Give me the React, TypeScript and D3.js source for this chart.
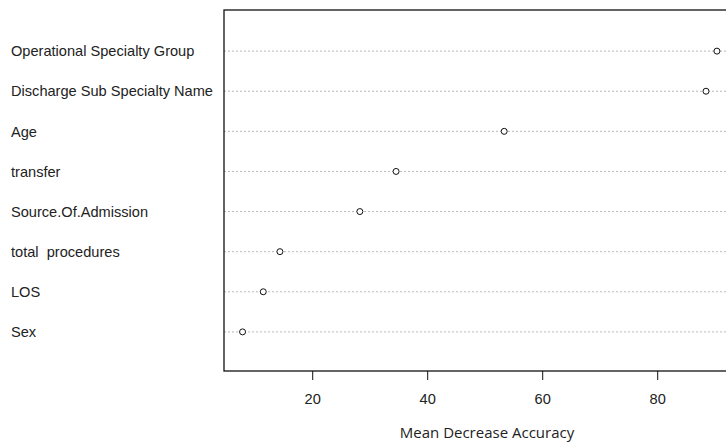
import React, { useEffect, useRef } from "react";
import * as d3 from "d3";

// variable importance, top to bottom
const variables = [
  "Operational Specialty Group",
  "Discharge Sub Specialty Name",
  "Age",
  "transfer",
  "Source.Of.Admission",
  "total  procedures",
  "LOS",
  "Sex",
];
const accuracy = [90.3, 88.4, 53.3, 34.5, 28.2, 14.3, 11.4, 7.8];
const xTicks = [20, 40, 60, 80];

const width = 726;
const height = 442;

export default function App() {
  const ref = useRef<SVGSVGElement>(null);

  useEffect(() => {
    document.body.style.margin = "0";
    const svg = d3.select(ref.current);
    svg.selectAll("*").remove();

    const left = 224;
    const top = 10;
    const bottom = 371;

    // x = 0 sits at ~197.7px, 5.75px per unit
    const x = d3.scaleLinear().domain([0, 100]).range([197.7, 772.7]);
    const right = 740; // box runs off the right edge in the original
    const y = d3.scaleLinear().domain([0, 9]).range([bottom + 1, top + 1]);
    const n = variables.length;

    const g = svg.append("g");

    // dotted guide lines
    g.selectAll("line.grid")
      .data(variables)
      .join("line")
      .attr("class", "grid")
      .attr("x1", left)
      .attr("x2", right)
      .attr("y1", (d, i) => y(n - i))
      .attr("y2", (d, i) => y(n - i))
      .attr("stroke", "#b8b8b8")
      .attr("stroke-width", 1)
      .attr("stroke-dasharray", "2,2");

    // box
    g.append("rect")
      .attr("x", left)
      .attr("y", top)
      .attr("width", right - left)
      .attr("height", bottom - top)
      .attr("fill", "none")
      .attr("stroke", "#111")
      .attr("stroke-width", 1.3);

    // points
    g.selectAll("circle")
      .data(accuracy)
      .join("circle")
      .attr("cx", (d) => x(d))
      .attr("cy", (d, i) => y(n - i))
      .attr("r", 3)
      .attr("fill", "white")
      .attr("stroke", "#111")
      .attr("stroke-width", 1);

    // row labels
    g.selectAll("text.label")
      .data(variables)
      .join("text")
      .attr("class", "label")
      .attr("x", 11)
      .attr("y", (d, i) => y(n - i))
      .attr("dy", "0.36em")
      .style("font", "14.6px 'Liberation Sans', Arial, sans-serif")
      .attr("fill", "#222")
      .style("white-space", "pre")
      .text((d) => d);

    // x axis
    const axis = g.append("g").attr("transform", `translate(0,${bottom})`);
    axis
      .selectAll("line")
      .data(xTicks)
      .join("line")
      .attr("x1", (d) => x(d))
      .attr("x2", (d) => x(d))
      .attr("y1", 0)
      .attr("y2", 9)
      .attr("stroke", "#111")
      .attr("stroke-width", 1);
    axis
      .selectAll("text")
      .data(xTicks)
      .join("text")
      .attr("x", (d) => x(d))
      .attr("y", 28)
      .attr("dy", "0.36em")
      .attr("text-anchor", "middle")
      .style("font", "14.6px 'Liberation Sans', Arial, sans-serif")
      .attr("fill", "#222")
      .text((d) => d);

    g.append("text")
      .attr("x", 487)
      .attr("y", 433)
      .attr("dy", "0.36em")
      .attr("text-anchor", "middle")
      .style("font", "15px 'Open Sans', sans-serif")
      .attr("fill", "#222")
      .text("Mean Decrease Accuracy");
  }, []);

  return <svg ref={ref} width={width} height={height} style={{ display: "block", background: "white" }}></svg>;
}
